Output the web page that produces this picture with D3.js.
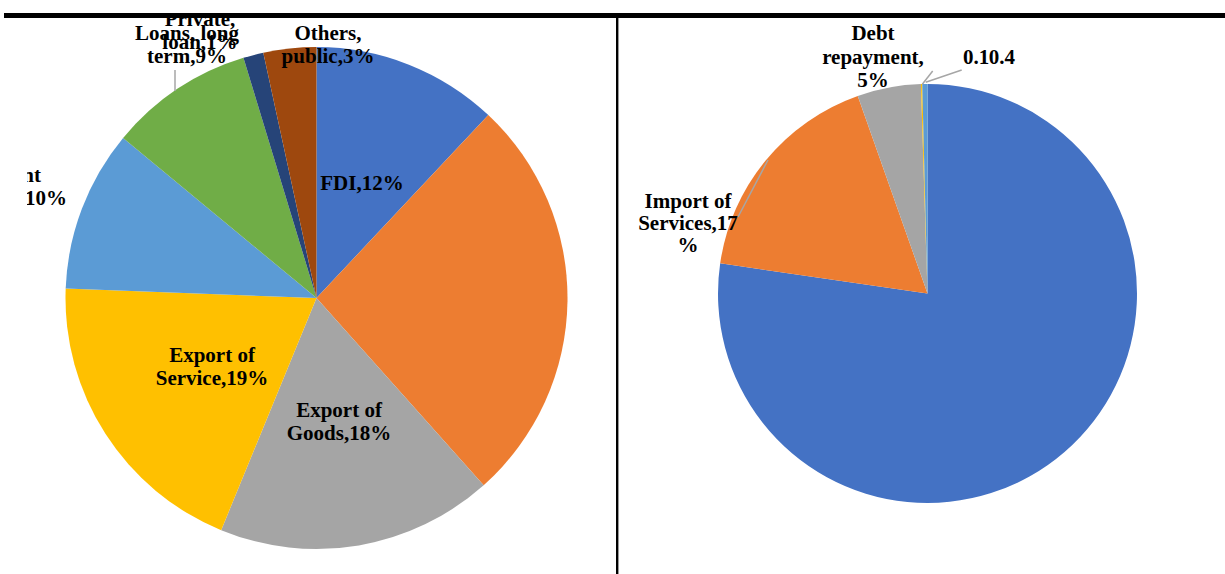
<!DOCTYPE html>
<html>
<head>
<meta charset="utf-8">
<script src="https://cdn.jsdelivr.net/npm/d3@7/dist/d3.min.js"></script>
<style>
  html, body { margin: 0; padding: 0; background: #fff; }
  svg { display: block; }
  text { font-family: "Liberation Serif", "Times New Roman", serif; font-weight: bold; fill: #000; }
</style>
</head>
<body>
<svg id="chart" width="1225" height="574"></svg>
<script>
// Sources of foreign exchange (left pie)
const sourceCategories = ["FDI", "Other inflows", "Export of Goods", "Export of Service",
  "Remittance and grant", "Loans, long term", "Private, loan", "Others, public"];
const sourceValues = [12.0, 26.4, 17.8, 19.4, 10.4, 9.3, 1.3, 3.4];
const sourceColors = ["#4472C4", "#ED7D31", "#A5A5A5", "#FFC000", "#5B9BD5", "#70AD47", "#264478", "#9E480E"];

// Uses of foreign exchange (right pie)
const useCategories = ["Import of Goods", "Import of Services", "Debt repayment", "Other", "Other"];
const useValues = [77.3, 17.3, 4.9, 0.1, 0.4];
const useColors = ["#4472C4", "#ED7D31", "#A5A5A5", "#FFC000", "#5B9BD5"];

const pct = v => Math.round(v) + "%";

// Label wording per slice (null = no label)
const sourceLabelLines = [
  d => ["FDI," + pct(d)],
  null,
  d => ["Export of", "Goods," + pct(d)],
  d => ["Export of", "Service," + pct(d)],
  d => ["Remittance and grant", pct(d)],
  d => ["Loans, long", "term," + pct(d)],
  d => ["Private,", "loan," + pct(d)],
  d => ["Others,", "public," + pct(d)]
];
const useLabelLines = [
  null,
  d => ["Import of", "Services," + Math.round(d), "%"],
  d => ["Debt", "repayment,", pct(d)],
  d => [String(d)],
  d => [String(d)]
];

// Label placement
const sourceLabelLayout = [
  { x: 362, y: 190, anchor: "middle" },
  null,
  { x: 339, y: 417, anchor: "middle" },
  { x: 212, y: 362, anchor: "middle" },
  { xs: [41, 67], y: 182, anchor: "end" },
  { x: 187, y: 40, anchor: "middle", leader: [[175, 70], [175, 91]] },
  { x: 200, y: 26, anchor: "middle" },
  { x: 328, y: 40, anchor: "middle" }
];
const useLabelLayout = [
  null,
  { x: 688, y: 208, anchor: "middle", lh: 22, leader: [[738, 217], [768, 160]] },
  { x: 873, y: 40, anchor: "middle", lh: 23.5 },
  { x: 963, y: 64, anchor: "start", leader: [[922.3, 84.3], [932.7, 71]] },
  { x: 1015, y: 64, anchor: "end", leader: [[925.7, 82.3], [961.7, 70]] }
];

const svg = d3.select("#chart");

svg.append("defs").append("clipPath").attr("id", "leftClip")
  .append("rect").attr("x", 27).attr("y", 18).attr("width", 589).attr("height", 556);

function drawPie(g, cx, cy, r, cats, values, colors, labelLines, layout) {
  const pie = d3.pie().sort(null).value(d => d.v);
  const data = pie(cats.map((c, i) => ({ c, v: values[i], i })));
  const arc = d3.arc().innerRadius(0).outerRadius(r);

  g.append("g").attr("transform", `translate(${cx},${cy})`)
    .selectAll("path").data(data).join("path")
    .attr("d", arc)
    .attr("fill", d => colors[d.data.i]);

  const line = d3.line();
  data.forEach(d => {
    const i = d.data.i;
    const L = layout[i];
    if (!L || !labelLines[i]) return;
    if (L.leader) {
      g.append("path").attr("d", line(L.leader))
        .attr("fill", "none").attr("stroke", "#A6A6A6").attr("stroke-width", 1.5);
    }
    const lines = labelLines[i](d.data.v);
    const lh = L.lh || 23;
    const t = g.append("text").attr("font-size", 21).attr("text-anchor", L.anchor);
    lines.forEach((s, k) => {
      t.append("tspan")
        .attr("x", L.xs ? L.xs[k] : L.x)
        .attr("y", L.y + k * lh)
        .text(s);
    });
  });
}

const left = svg.append("g").attr("clip-path", "url(#leftClip)");
drawPie(left, 316.5, 298, 251, sourceCategories, sourceValues, sourceColors, sourceLabelLines, sourceLabelLayout);

const right = svg.append("g");
drawPie(right, 927.5, 293.5, 209.5, useCategories, useValues, useColors, useLabelLines, useLabelLayout);

// Frame: heavy top rule and vertical divider
svg.append("rect").attr("x", 4).attr("y", 13).attr("width", 1221).attr("height", 5).attr("fill", "#000");
svg.append("rect").attr("x", 616).attr("y", 13).attr("width", 2.4).attr("height", 561).attr("fill", "#000");
</script>
</body>
</html>
